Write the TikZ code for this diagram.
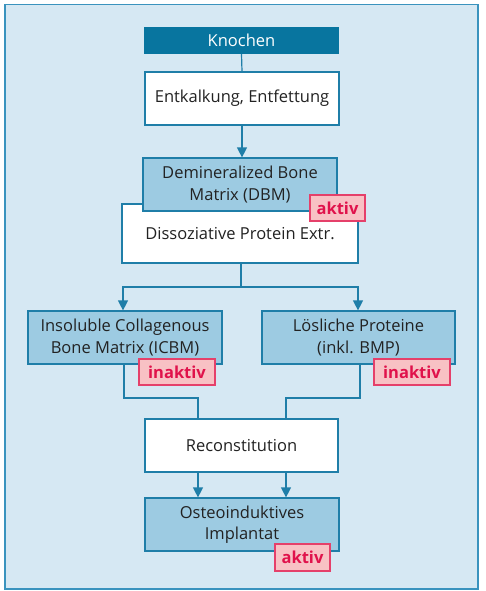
\documentclass[tikz,border=0pt]{standalone}
\usepackage{fontspec}
\setmainfont{Open Sans}
\usetikzlibrary{arrows.meta}
\definecolor{bgc}{HTML}{D6E8F3}
\definecolor{framec}{HTML}{3A93BE}
\definecolor{darkc}{HTML}{08759F}
\definecolor{lightc}{HTML}{9DCBE2}
\definecolor{linec}{HTML}{1F7EA8}
\definecolor{tagfill}{HTML}{F8C1C4}
\definecolor{tagdraw}{HTML}{E5406A}
\definecolor{tagtext}{HTML}{E0124B}
\definecolor{txt}{HTML}{222222}
\tikzset{
  box/.style={draw=linec, line width=1.2pt, minimum width=194pt, minimum height=53pt,
    inner sep=0pt, align=center, text=txt, font=\fontsize{16.5}{21.5}\selectfont},
  whitebox/.style={box, fill=white},
  bluebox/.style={box, fill=lightc},
  topbox/.style={box, fill=darkc, draw=darkc, text=white, minimum height=26pt},
  tagbox/.style={draw=tagdraw, line width=1.2pt, fill=tagfill, text=tagtext, inner sep=0pt,
    minimum height=26pt, font=\fontsize{16.5}{20}\selectfont\bfseries},
  conn/.style={draw=linec, line width=1.2pt},
  arr/.style={conn, -{Triangle[length=10pt,width=10pt]}},
}
\begin{document}
\begin{tikzpicture}[x=1pt,y=-1pt]
\useasboundingbox (0,0) rectangle (486,591);
\fill[white] (0,0) rectangle (486,591);
\draw[framec, fill=bgc, line width=1.2pt] (5,4.5) rectangle (478,589);

\node[topbox] (kn) at (241.5,40.5) {Knochen};
\node[whitebox] (ent) at (242,98.5) {Entkalkung, Entfettung};
\node[whitebox, minimum width=236pt, minimum height=59pt] (dis) at (240,233.5) {\raisebox{-3pt}{Dissoziative Protein Extr.}};
\node[bluebox] (dbm) at (240,184.5) {Demineralized Bone\\Matrix (DBM)};
\node[tagbox, minimum width=55pt] (t1) at (337.5,208) {aktiv};

\node[bluebox] (icbm) at (125,337.5) {Insoluble Collagenous\\Bone Matrix (ICBM)};
\node[bluebox, minimum width=193pt] (loes) at (358.5,337.5) {Lösliche Proteine\\(inkl. BMP)};
\node[tagbox, minimum width=76pt] (t2) at (177,372) {inaktiv};
\node[tagbox, minimum width=76pt] (t3) at (412,372) {inaktiv};

\node[whitebox, minimum width=193pt] (rec) at (241.5,445.5) {Reconstitution};
\node[bluebox] (ost) at (242,524.5) {Osteoinduktives\\Implantat};
\node[tagbox, minimum width=55pt, minimum height=27pt] (t4) at (302.5,557.5) {aktiv};

\draw[conn] (kn.south) -- (ent.north);
\draw[arr] (ent.south) -- (dbm.north -| ent.south);

\coordinate (split) at (241,287);
\draw[conn] (dis.south -| split) -- (split);
\draw[arr] (split) -| (icbm.north -| 123,0);
\draw[arr] (split) -| (loes.north -| 358,0);

\coordinate (jl) at (124,398);
\coordinate (jr) at (360,398);
\draw[conn] (icbm.south -| jl) |- (198,398) -- (rec.north -| 198,0);
\draw[conn] (loes.south -| jr) |- (286,398) -- (rec.north -| 286,0);

\draw[arr] (rec.south -| 198,0) -- (ost.north -| 198,0);
\draw[arr] (rec.south -| 286,0) -- (ost.north -| 286,0);

% redraw tags on top of connectors
\node[tagbox, minimum width=76pt] at (177,372) {inaktiv};
\node[tagbox, minimum width=76pt] at (412,372) {inaktiv};
\end{tikzpicture}
\end{document}
